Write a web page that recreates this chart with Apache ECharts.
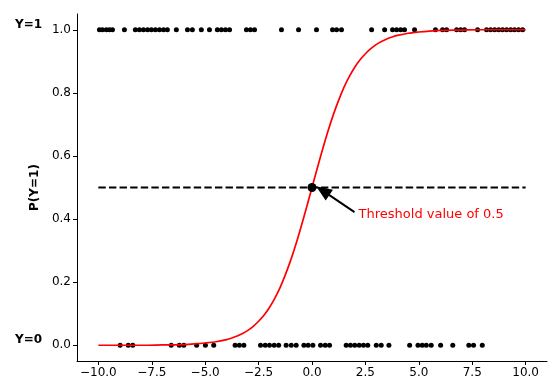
<!DOCTYPE html>
<html>
<head>
<meta charset="utf-8">
<script src="https://cdn.jsdelivr.net/npm/echarts@6/dist/echarts.min.js"></script>
<style>
  html, body { margin: 0; padding: 0; background: #fff; }
  #chart { width: 552px; height: 385px; }
</style>
</head>
<body>
<div id="chart"></div>
<script>
// observations with outcome Y=1
const xOnes = [-9.95, -9.81, -9.63, -9.48, -9.34, -8.78, -8.27, -8.08, -7.89, -7.70, -7.52, -7.33,
  -7.14, -6.95, -6.77, -6.35, -5.83, -5.60, -5.18, -4.80, -4.43, -4.24, -4.05, -3.86, -3.07,
  -2.88, -2.69, -1.43, -0.63, 0.21, 0.96, 1.15, 1.38, 2.79, 3.40, 3.77, 3.96, 4.15, 4.33, 4.80,
  5.78, 6.11, 6.30, 6.77, 6.96, 7.14, 7.75, 8.17, 8.36, 8.55, 8.74, 8.92, 9.11, 9.30, 9.48,
  9.67, 9.86]
// observations with outcome Y=0
const xZeros = [-8.98, -8.60, -8.39, -6.59, -6.21, -6.00, -5.40, -4.99, -4.60, -3.60, -3.40, -3.19,
  -2.41, -2.19, -1.99, -1.77, -1.56, -1.21, -0.97, -0.74, -0.38, -0.18, 0.04, 0.40, 0.62, 0.82,
  1.60, 1.80, 2.00, 2.21, 2.41, 2.61, 3.01, 3.24, 3.60, 4.57, 4.96, 5.16, 5.35, 5.58, 6.02,
  6.59, 7.34, 7.56, 7.97]

// fitted curve
const curveX = [-10, -8, -7, -6, -5.5, -5, -4.5, -4, -3.75, -3.5, -3.25, -3, -2.75, -2.5, -2.25,
  -2, -1.75, -1.5, -1.25, -1, -0.75, -0.5, -0.25, 0, 0.25, 0.5, 0.75, 1, 1.25, 1.5, 1.75, 2,
  2.25, 2.5, 2.75, 3, 3.25, 3.5, 3.75, 4, 4.5, 5, 5.5, 6, 7, 8, 10]
const curveY = [0.000, 0.000, 0.001, 0.002, 0.004, 0.007, 0.011, 0.018, 0.023, 0.029, 0.037, 0.047,
  0.060, 0.076, 0.095, 0.119, 0.148, 0.182, 0.223, 0.269, 0.321, 0.378, 0.438, 0.500, 0.562,
  0.622, 0.679, 0.731, 0.777, 0.818, 0.852, 0.881, 0.905, 0.924, 0.940, 0.953, 0.963, 0.971,
  0.977, 0.982, 0.989, 0.993, 0.996, 0.998, 0.999, 1.000, 1.000]

const threshold = 0.5
const thresholdX = [-10, 10]
const xTicks = [-10, -7.5, -5, -2.5, 0, 2.5, 5, 7.5, 10]
const yTicks = [0, 0.2, 0.4, 0.6, 0.8, 1.0]
const annText = 'Threshold value of 0.5'
const annTextPos = [2.18, 0.413]
const annArrowFrom = [1.99, 0.422]
const annArrowTo = [0.5, 0.49]

const chart = echarts.init(document.getElementById('chart'), null, { renderer: 'canvas' })
const font = 'DejaVu Sans'

chart.setOption({
  animation: false,
  textStyle: { fontFamily: font },
  grid: { left: 77, right: 5, top: 14, bottom: 24 },
  xAxis: {
    type: 'value',
    min: -11,
    max: 11,
    splitLine: { show: false },
    axisLine: { onZero: false, lineStyle: { color: '#000', width: 1 } },
    axisTick: { customValues: xTicks, length: 4, lineStyle: { color: '#000' } },
    axisLabel: {
      customValues: xTicks,
      color: '#000',
      fontSize: 12,
      margin: 6,
      formatter: v => v.toFixed(1).replace('-', '\u2212')
    }
  },
  yAxis: {
    type: 'value',
    min: -0.05,
    max: 1.05,
    name: 'P(Y=1)',
    nameLocation: 'middle',
    nameGap: 36,
    nameTextStyle: { fontWeight: 'bold', fontSize: 12, color: '#000' },
    splitLine: { show: false },
    axisLine: { show: true, onZero: false, lineStyle: { color: '#000', width: 1 } },
    axisTick: { show: true, customValues: yTicks, length: 4, lineStyle: { color: '#000' } },
    axisLabel: {
      customValues: yTicks,
      color: '#000',
      fontSize: 12,
      margin: 6,
      formatter: v => v.toFixed(1)
    }
  },
  series: [
    {
      type: 'scatter',
      data: xOnes.map(x => [x, 1]),
      symbolSize: 5,
      itemStyle: { color: '#000', opacity: 1 },
      z: 2
    },
    {
      type: 'scatter',
      data: xZeros.map(x => [x, 0]),
      symbolSize: 5,
      itemStyle: { color: '#000', opacity: 1 },
      z: 2
    },
    {
      type: 'line',
      data: curveX.map((x, i) => [x, curveY[i]]),
      smooth: 0.3,
      showSymbol: false,
      lineStyle: { color: '#ff0000', width: 1.7 },
      z: 3
    },
    {
      type: 'line',
      data: thresholdX.map(x => [x, threshold]),
      showSymbol: false,
      lineStyle: { color: '#000', width: 2, type: [7.4, 3.2] },
      z: 4
    },
    {
      type: 'scatter',
      data: [[0, threshold]],
      symbolSize: 9,
      itemStyle: { color: '#000', opacity: 1 },
      z: 6,
      markLine: {
        silent: true,
        symbol: ['none', 'triangle'],
        symbolSize: [13, 16],
        label: { show: false },
        lineStyle: { color: '#000', width: 2, type: 'solid', opacity: 1 },
        data: [[{ coord: annArrowFrom }, { coord: annArrowTo }]]
      }
    },
    {
      type: 'scatter',
      data: [annTextPos],
      symbolSize: 0,
      silent: true,
      itemStyle: { opacity: 1 },
      label: {
        show: true,
        position: 'right',
        distance: 0,
        formatter: annText,
        color: '#ff0000',
        fontSize: 13,
        fontFamily: font
      },
      z: 6
    }
  ]
})

// outcome labels on the left, aligned to the y=1 and y=0 rows
const yTop = chart.convertToPixel({ yAxisIndex: 0 }, 1)
const yBot = chart.convertToPixel({ yAxisIndex: 0 }, 0)
chart.setOption({
  graphic: [
    { type: 'text', left: 15, top: yTop - 11, style: { text: 'Y=1', font: 'bold 12px "DejaVu Sans"', fill: '#000' } },
    { type: 'text', left: 15, top: yBot - 11, style: { text: 'Y=0', font: 'bold 12px "DejaVu Sans"', fill: '#000' } }
  ]
})
</script>
</body>
</html>
